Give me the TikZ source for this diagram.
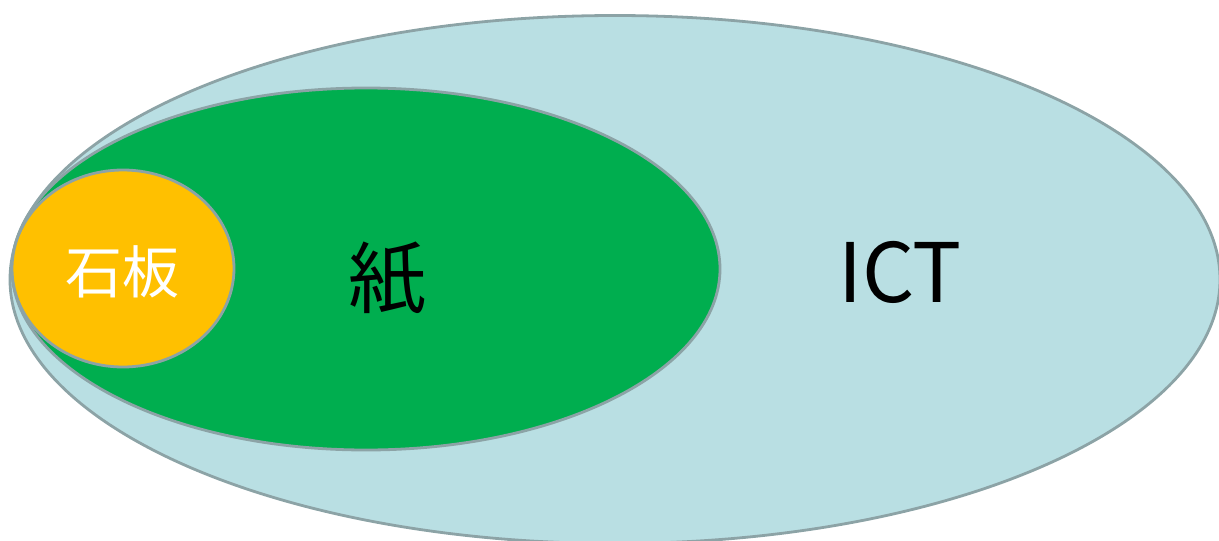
\documentclass[tikz,border=0pt]{standalone}
\usepackage{fontspec}
\setmainfont{Noto Sans CJK JP}
\begin{document}
\begin{tikzpicture}[x=1pt,y=-1pt,
  setring/.style={draw=edgegray,line width=2.8pt},
  label/.style={inner sep=0pt,anchor=center}]
\definecolor{edgegray}{HTML}{8CA3A6}
\definecolor{ictblue}{HTML}{B9DFE3}
\definecolor{papergreen}{HTML}{00AE4F}
\definecolor{slateyellow}{HTML}{FFC000}
\useasboundingbox (0,0) rectangle (1219,541);
\clip (0,0) rectangle (1219,541);
% outer set: ICT
\path[setring,fill=ictblue] (615,279.5) ellipse [x radius=605, y radius=264];
% middle set: paper
\path[setring,fill=papergreen] (366,269) ellipse [x radius=354, y radius=181];
% inner set: slate
\path[setring,fill=slateyellow] (123,268.5) ellipse [x radius=111, y radius=98.5];
\node[label,font=\fontsize{57}{57}\selectfont,text=white] (slate) at (122,272) {石板};
\node[label,font=\fontsize{78}{78}\selectfont] (paper) at (387,279) {紙};
\node[label,font=\fontsize{82}{82}\selectfont] (ict) at (900,272) {ICT};
\end{tikzpicture}
\end{document}
